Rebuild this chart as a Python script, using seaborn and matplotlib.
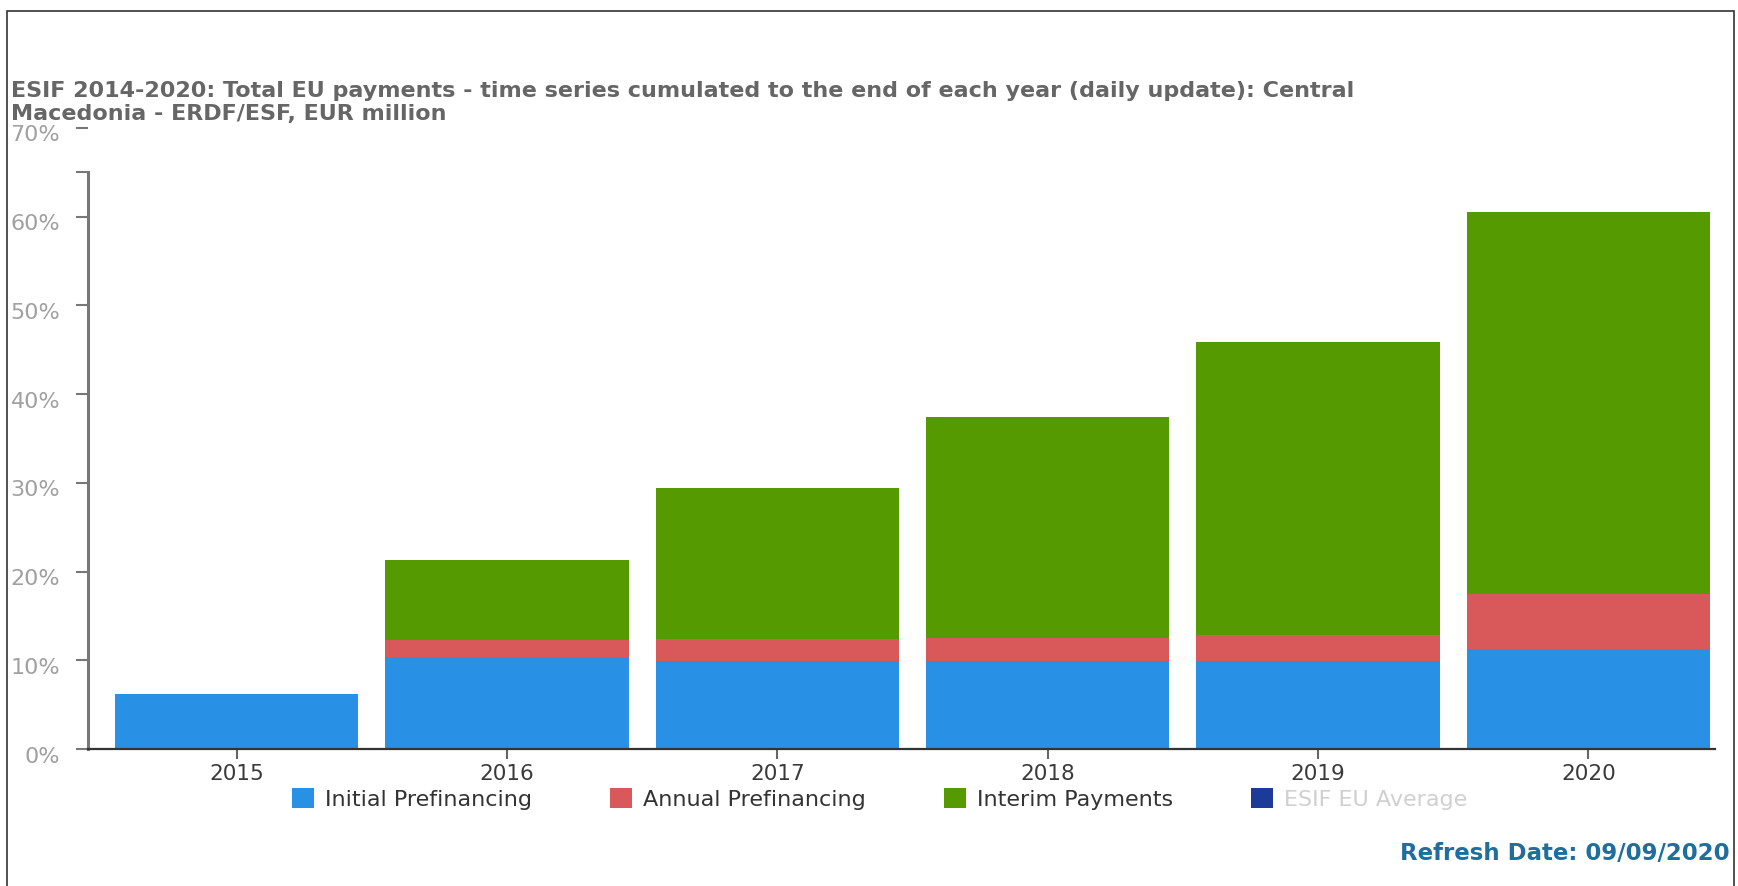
import matplotlib
matplotlib.use('Agg')
import matplotlib.pyplot as plt
import matplotlib.transforms as mtransforms
from matplotlib.patches import Patch, Rectangle
import numpy as np
import pandas as pd
import seaborn as sns

# values, % of total allocation
years = ['2015', '2016', '2017', '2018', '2019', '2020']
initial_prefinancing = [6.2, 10.4, 9.95, 9.95, 9.95, 11.3]
annual_prefinancing = [0.0, 1.9, 2.4, 2.6, 2.9, 6.2]
interim_payments = [0.0, 9.0, 17.1, 24.9, 33.0, 43.0]
y_ticks = [0, 10, 20, 30, 40, 50, 60, 70]

series_names = ['Initial Prefinancing', 'Annual Prefinancing', 'Interim Payments', 'ESIF EU Average']
colors = ['#2891e6', '#d9585a', '#559a00', '#1c3a98']

df = pd.DataFrame({'year': years, 'initial': initial_prefinancing,
                   'annual': annual_prefinancing, 'interim': interim_payments})
df['lvl2'] = df['initial'] + df['annual']
df['lvl3'] = df['lvl2'] + df['interim']

sns.set_theme(style='white')
plt.rcParams['font.family'] = ['DejaVu Sans']

fig = plt.figure(figsize=(17.38, 8.86), dpi=100)
ax = fig.add_axes([0.0506, 0.1546, 0.9364, 0.701])

# stacked look: draw totals first, then overlay lower layers
for col, c in [('lvl3', colors[2]), ('lvl2', colors[1]), ('initial', colors[0])]:
    sns.barplot(data=df, x='year', y=col, color=c, saturation=1, width=0.9,
                linewidth=0, ax=ax)

ax.set_xlim(-0.55, 5.47)
ax.set_ylim(0, 70)
ax.set_yticks(y_ticks)
ax.set_yticklabels([f'{t}%' for t in y_ticks])
ax.set_xlabel('')
ax.set_ylabel('')
for s in ['top', 'right']:
    ax.spines[s].set_visible(False)
ax.spines['left'].set_bounds(0, 65)
ax.spines['left'].set_color('#777777')
ax.spines['left'].set_linewidth(2.2)
ax.spines['bottom'].set_color('#333333')
ax.spines['bottom'].set_linewidth(1.6)
ax.tick_params(axis='y', left=True, length=9, width=1.5, color='#777777',
               labelsize=16, labelcolor='#a0a0a0', pad=11)
ax.tick_params(axis='x', bottom=True, length=7, width=1.5, color='#666666',
               labelsize=15.5, labelcolor='#3a3a3a', pad=4)
ax.set_yticks([65], minor=True)
ax.tick_params(axis='y', which='minor', left=True, length=9, width=1.5, color='#777777')

# y labels sit a little below their ticks in the original
shift = mtransforms.ScaledTranslation(0, -4 / 72, fig.dpi_scale_trans)
for lbl in ax.get_yticklabels():
    lbl.set_transform(lbl.get_transform() + shift)

fig.text(0.0063, 0.8845, 'ESIF 2014-2020: Total EU payments - time series cumulated to the end of each year (daily update): Central\nMacedonia - ERDF/ESF, EUR million',
         fontsize=16, fontweight='bold', color='#666666', ha='left', va='center', linespacing=1.2)

handles = [Patch(facecolor=c, edgecolor='none') for c in colors]
leg = fig.legend(handles, series_names, loc='center', bbox_to_anchor=(0.506, 0.098), ncol=4,
                 frameon=False, fontsize=16, handlelength=1.0, handleheight=1.0,
                 handletextpad=0.5, columnspacing=3.5)
for txt, c in zip(leg.get_texts(), ['#333333', '#333333', '#333333', '#d0d0d0']):
    txt.set_color(c)

fig.text(0.995, 0.037, 'Refresh Date: 09/09/2020', fontsize=16.5, fontweight='bold',
         color='#1e6e9e', ha='right', va='center')

# outer frame around the widget
fig.patches.append(Rectangle((0.004, -0.1), 0.9937, 1.088, transform=fig.transFigure,
                             fill=False, edgecolor='#333333', linewidth=1.2))

fig.savefig('out.png', dpi=100)
